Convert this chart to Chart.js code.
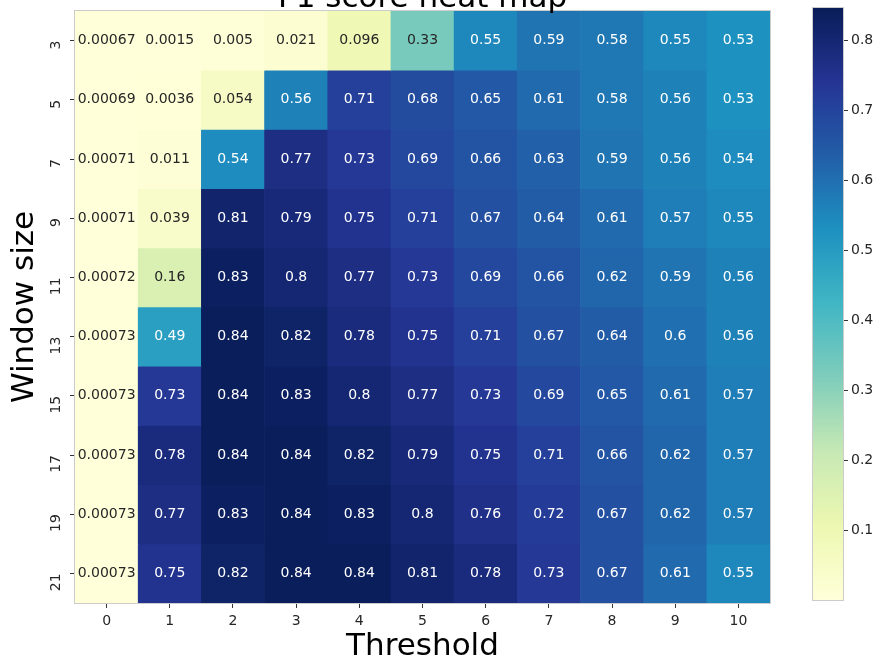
<!DOCTYPE html>
<html>
<head>
<meta charset="utf-8">
<script src="https://cdn.jsdelivr.net/npm/chart.js@4.4.1/dist/chart.umd.min.js"></script>
<style>
  html, body { margin: 0; padding: 0; background: #ffffff; }
  #wrap { position: relative; width: 881px; height: 662px; overflow: hidden; }
  #main { position: absolute; left: 0; top: 0; }
  #cbar { position: absolute; left: 790px; top: 0; }
</style>
</head>
<body>
<div id="wrap">
  <canvas id="main" width="790" height="662"></canvas>
  <canvas id="cbar" width="91" height="662"></canvas>
</div>
<script>
// ---------- data ----------
const chartTitle = 'F1 score heat map';
const xTitle = 'Threshold';
const yTitle = 'Window size';
const thresholds = ['0', '1', '2', '3', '4', '5', '6', '7', '8', '9', '10'];
const windowSizes = [3, 5, 7, 9, 11, 13, 15, 17, 19, 21];

const f1Window3  = [0.00067, 0.0015, 0.005, 0.021, 0.096, 0.33, 0.55, 0.59, 0.58, 0.55, 0.53];
const f1Window5  = [0.00069, 0.0036, 0.054, 0.56, 0.71, 0.68, 0.65, 0.61, 0.58, 0.56, 0.53];
const f1Window7  = [0.00071, 0.011, 0.54, 0.77, 0.73, 0.69, 0.66, 0.63, 0.59, 0.56, 0.54];
const f1Window9  = [0.00071, 0.039, 0.81, 0.79, 0.75, 0.71, 0.67, 0.64, 0.61, 0.57, 0.55];
const f1Window11 = [0.00072, 0.16, 0.83, 0.8, 0.77, 0.73, 0.69, 0.66, 0.62, 0.59, 0.56];
const f1Window13 = [0.00073, 0.49, 0.84, 0.82, 0.78, 0.75, 0.71, 0.67, 0.64, 0.6, 0.56];
const f1Window15 = [0.00073, 0.73, 0.84, 0.83, 0.8, 0.77, 0.73, 0.69, 0.65, 0.61, 0.57];
const f1Window17 = [0.00073, 0.78, 0.84, 0.84, 0.82, 0.79, 0.75, 0.71, 0.66, 0.62, 0.57];
const f1Window19 = [0.00073, 0.77, 0.83, 0.84, 0.83, 0.8, 0.76, 0.72, 0.67, 0.62, 0.57];
const f1Window21 = [0.00073, 0.75, 0.82, 0.84, 0.84, 0.81, 0.78, 0.73, 0.67, 0.61, 0.55];

const f1Rows = [f1Window3, f1Window5, f1Window7, f1Window9, f1Window11,
                f1Window13, f1Window15, f1Window17, f1Window19, f1Window21];

const colorbarTicks = [0.1, 0.2, 0.3, 0.4, 0.5, 0.6, 0.7, 0.8];
const colorMin = Math.min(...f1Rows.flat());
const colorMax = 0.846;

// ---------- colormap (YlGnBu) ----------
const ylgnbu = ['#ffffd9', '#edf8b1', '#c7e9b4', '#7fcdbb', '#41b6c4', '#1d91c0', '#225ea8', '#253494', '#081d58'];
function hexToRgb(h) { return [parseInt(h.slice(1,3),16), parseInt(h.slice(3,5),16), parseInt(h.slice(5,7),16)]; }
const cmapRgb = ylgnbu.map(hexToRgb);
function cmap(t) {
  t = Math.max(0, Math.min(1, t));
  const p = t * (cmapRgb.length - 1);
  const i = Math.min(Math.floor(p), cmapRgb.length - 2);
  const f = p - i;
  const a = cmapRgb[i], b = cmapRgb[i + 1];
  return [0, 1, 2].map(k => Math.round(a[k] + (b[k] - a[k]) * f));
}
function colorFor(v) {
  const c = cmap((v - colorMin) / (colorMax - colorMin));
  return `rgb(${c[0]},${c[1]},${c[2]})`;
}
function lum(c) {
  const ch = c.map(x => { x /= 255; return x <= 0.03928 ? x / 12.92 : Math.pow((x + 0.055) / 1.055, 2.4); });
  return 0.2126 * ch[0] + 0.7152 * ch[1] + 0.0722 * ch[2];
}
function textColorFor(v) {
  const c = cmap((v - colorMin) / (colorMax - colorMin));
  return lum(c) > 0.408 ? '#262626' : '#ffffff';
}
function fmt(v) {
  let s = v.toPrecision(2);
  if (s.indexOf('.') >= 0) s = s.replace(/0+$/, '').replace(/\.$/, '');
  return s;
}

const FONT = "'DejaVu Sans', sans-serif";

// ---------- main heatmap ----------
const datasets = windowSizes.map((w, r) => ({
  label: 'Window ' + w,
  data: f1Rows[r].map(() => [w - 1, w + 1]),
  f1: f1Rows[r],
  backgroundColor: f1Rows[r].map(colorFor),
  borderWidth: 0,
  barPercentage: 1,
  categoryPercentage: 1,
  grouped: false
}));

const annotatePlugin = {
  id: 'annotate',
  afterDatasetsDraw(chart) {
    const ctx = chart.ctx;
    const a = chart.chartArea;
    ctx.save();
    ctx.font = '14px ' + FONT;
    ctx.textAlign = 'center';
    ctx.textBaseline = 'middle';
    chart.data.datasets.forEach((ds, di) => {
      const meta = chart.getDatasetMeta(di);
      meta.data.forEach((el, i) => {
        const p = el.getCenterPoint();
        const v = ds.f1[i];
        ctx.fillStyle = textColorFor(v);
        ctx.fillText(fmt(v), p.x, p.y);
      });
    });
    // light frame
    ctx.strokeStyle = '#cccccc';
    ctx.lineWidth = 1;
    ctx.strokeRect(Math.round(a.left) - 0.5, Math.round(a.top) - 0.5, Math.round(a.right - a.left) + 1, Math.round(a.bottom - a.top) + 1);
    // title (partially cut off at top)
    ctx.fillStyle = '#000000';
    ctx.font = '31px ' + FONT;
    ctx.textBaseline = 'alphabetic';
    ctx.fillText(chartTitle, (a.left + a.right) / 2, 7);
    ctx.restore();
  }
};

new Chart(document.getElementById('main'), {
  type: 'bar',
  data: { labels: thresholds, datasets },
  options: {
    responsive: false,
    animation: false,
    events: [],
    layout: { padding: { top: 11, right: 20, left: 0, bottom: 0 } },
    plugins: { legend: { display: false }, tooltip: { enabled: false }, title: { display: false } },
    scales: {
      x: {
        type: 'category',
        offset: true,
        grid: { display: true, drawOnChartArea: false, offset: false, tickLength: 5, color: '#333333', tickColor: '#333333' },
        border: { display: false },
        ticks: { font: { family: FONT, size: 14 }, color: '#262626', padding: 5, maxRotation: 0, minRotation: 0 },
        title: { display: true, text: xTitle, font: { family: FONT, size: 31, lineHeight: 1 }, color: '#000000', padding: { top: 0, bottom: 0 } },
        afterFit(s) { s.height = 59; s.paddingLeft = 0; s.paddingRight = 0; }
      },
      y: {
        type: 'linear',
        reverse: true,
        min: 2,
        max: 22,
        grid: { display: true, drawOnChartArea: false, tickLength: 5, color: '#333333', tickColor: '#333333' },
        border: { display: false },
        afterBuildTicks(s) { s.ticks = windowSizes.map(v => ({ value: v })); },
        ticks: { font: { family: FONT, size: 14 }, color: '#262626', padding: 14, minRotation: 90, maxRotation: 90, callback: v => String(v) },
        title: { display: true, text: yTitle, font: { family: FONT, size: 31, lineHeight: 1 }, color: '#000000', padding: { top: 9, bottom: 0 } },
        afterFit(s) { s.width = 75; s.paddingTop = 0; s.paddingBottom = 0; }
      }
    }
  },
  plugins: [annotatePlugin]
});

// ---------- colorbar ----------
const cbarFramePlugin = {
  id: 'cbarFrame',
  afterDatasetsDraw(chart) {
    const ctx = chart.ctx, a = chart.chartArea;
    ctx.save();
    ctx.strokeStyle = '#cccccc';
    ctx.lineWidth = 1;
    ctx.strokeRect(Math.round(a.left) - 0.5, Math.round(a.top) - 0.5, Math.round(a.right - a.left) + 1, Math.round(a.bottom - a.top) + 1);
    ctx.restore();
  }
};

new Chart(document.getElementById('cbar'), {
  type: 'bar',
  data: {
    labels: ['cbar'],
    datasets: [{
      data: [[colorMin, colorMax]],
      borderWidth: 0,
      barPercentage: 1,
      categoryPercentage: 1,
      backgroundColor(ctx) {
        const chart = ctx.chart, a = chart.chartArea;
        if (!a) return '#ffffff';
        const ys = chart.scales.y;
        const g = chart.ctx.createLinearGradient(0, ys.getPixelForValue(colorMin), 0, ys.getPixelForValue(colorMax));
        ylgnbu.forEach((c, i) => g.addColorStop(i / (ylgnbu.length - 1), c));
        return g;
      }
    }]
  },
  options: {
    responsive: false,
    animation: false,
    events: [],
    layout: { padding: { top: 8, left: 23, right: 0, bottom: 62 } },
    plugins: { legend: { display: false }, tooltip: { enabled: false } },
    scales: {
      x: { display: false, offset: true },
      y: {
        position: 'right',
        type: 'linear',
        min: colorMin,
        max: colorMax,
        grid: { display: true, drawOnChartArea: false, tickLength: 5, color: '#333333', tickColor: '#333333' },
        border: { display: false },
        afterBuildTicks(s) { s.ticks = colorbarTicks.map(v => ({ value: v })); },
        ticks: { font: { family: FONT, size: 14 }, color: '#262626', padding: 3, callback: v => String(Math.round(v * 10) / 10) },
        afterFit(s) { s.width = 38; s.paddingTop = 0; s.paddingBottom = 0; }
      }
    }
  },
  plugins: [cbarFramePlugin]
});
</script>
</body>
</html>
